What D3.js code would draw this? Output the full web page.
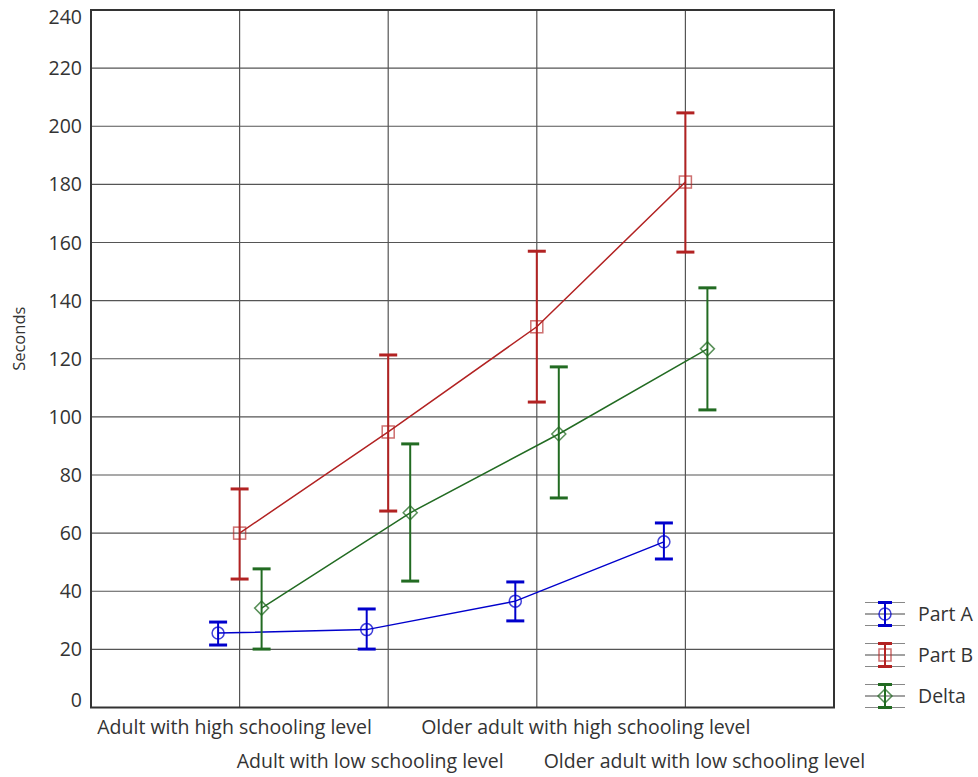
<!DOCTYPE html>
<html>
<head>
<meta charset="utf-8">
<script src="https://cdn.jsdelivr.net/npm/d3@7"></script>
<style>
  body { margin: 0; background: #fff; }
  text { font-family: "Open Sans", Lato, sans-serif; fill: #333; }
</style>
</head>
<body>
<script>
var categories = ['Adult with high schooling level', 'Adult with low schooling level',
  'Older adult with high schooling level', 'Older adult with low schooling level']
var seriesNames = ['Part A', 'Part B', 'Delta']
var partA = [25.6, 26.8, 36.6, 57.0]
var partALow = [21.5, 20.1, 29.8, 51.1]
var partAHigh = [29.4, 33.9, 43.2, 63.5]
var partB = [60.0, 94.8, 131.0, 180.8]
var partBLow = [44.2, 67.6, 105.1, 156.7]
var partBHigh = [75.2, 121.3, 157.0, 204.6]
var delta = [34.2, 67.0, 94.1, 123.4]
var deltaLow = [20.1, 43.5, 72.1, 102.4]
var deltaHigh = [47.7, 90.7, 117.2, 144.4]
var yTicks = [0, 20, 40, 60, 80, 100, 120, 140, 160, 180, 200, 220, 240]

var w = 978
var h = 777
var margin = { top: 10, right: 144, bottom: 69, left: 91 }

var svg = d3.select('body').append('svg')
  .attr('width', w)
  .attr('height', h)

var x = d3.scaleLinear()
  .domain([0, 5])
  .range([margin.left, w - margin.right])

var y = d3.scaleLinear()
  .domain([0, 240])
  .range([h - margin.bottom - 0.5, margin.top])

var series = [
  { name: seriesNames[0], mean: partA, low: partALow, high: partAHigh, color: '#0000cc', dx: -21.5, shape: 'circle' },
  { name: seriesNames[1], mean: partB, low: partBLow, high: partBHigh, color: '#b22222', dx: 0, shape: 'square' },
  { name: seriesNames[2], mean: delta, low: deltaLow, high: deltaHigh, color: '#226b22', dx: 22, shape: 'diamond' }
]

// GRID
svg.append('g').selectAll('line')
  .data(yTicks.slice(1, -1))
  .enter().append('line')
  .attr('x1', x(0)).attr('x2', x(5))
  .attr('y1', function (d) { return y(d) })
  .attr('y2', function (d) { return y(d) })
  .attr('stroke', '#555').attr('stroke-width', 1.2)

svg.append('g').selectAll('line')
  .data(categories)
  .enter().append('line')
  .attr('x1', function (d, i) { return x(i + 1) })
  .attr('x2', function (d, i) { return x(i + 1) })
  .attr('y1', y(240)).attr('y2', y(0))
  .attr('stroke', '#555').attr('stroke-width', 1.2)

// FRAME
svg.append('rect')
  .attr('x', x(0)).attr('y', y(240))
  .attr('width', x(5) - x(0)).attr('height', y(0) - y(240))
  .attr('fill', 'none').attr('stroke', '#333').attr('stroke-width', 2)

// Y TICK LABELS (end labels pulled inside the plot height)
svg.append('g').selectAll('text')
  .data(yTicks)
  .enter().append('text')
  .attr('x', x(0) - 9)
  .attr('y', function (d) { return Math.min(700, Math.max(17, y(d))) })
  .attr('dy', '0.36em')
  .attr('text-anchor', 'end')
  .style('font-size', '19.5px')
  .text(function (d) { return d })

svg.append('text')
  .attr('transform', 'translate(25,' + (y(120) - 20) + ') rotate(-90)')
  .attr('text-anchor', 'middle')
  .style('font-size', '16.5px')
  .text('Seconds')

// CATEGORY LABELS (staggered)
var labelShift = [-5, -18, 49, 19]
svg.append('g').selectAll('text')
  .data(categories)
  .enter().append('text')
  .attr('x', function (d, i) { return x(i + 1) + labelShift[i] })
  .attr('y', function (d, i) { return i % 2 === 0 ? 734 : 768 })
  .attr('text-anchor', 'middle')
  .style('font-size', '19.5px')
  .text(function (d) { return d })

function marker (g, shape, color, cx, cy) {
  if (shape === 'circle') {
    g.append('circle').attr('cx', cx).attr('cy', cy).attr('r', 6)
      .attr('fill', 'none').attr('stroke', color).attr('stroke-opacity', 0.75).attr('stroke-width', 1.5)
  } else if (shape === 'square') {
    g.append('rect').attr('x', cx - 6).attr('y', cy - 6).attr('width', 12).attr('height', 12)
      .attr('fill', 'none').attr('stroke', color).attr('stroke-opacity', 0.65).attr('stroke-width', 1.5)
  } else {
    g.append('path').attr('d', 'M' + cx + ',' + (cy - 7) + 'L' + (cx + 7) + ',' + cy + 'L' + cx + ',' + (cy + 7) + 'L' + (cx - 7) + ',' + cy + 'Z')
      .attr('fill', 'none').attr('stroke', color).attr('stroke-opacity', 0.75).attr('stroke-width', 1.5)
  }
}

var line = d3.line()

// SERIES
series.forEach(function (s) {
  var g = svg.append('g')
  var px = function (i) { return x(i + 1) + s.dx }

  g.append('path')
    .attr('d', line(s.mean.map(function (d, i) { return [px(i), y(d)] })))
    .attr('fill', 'none').attr('stroke', s.color).attr('stroke-width', 1.5)

  s.mean.forEach(function (d, i) {
    g.append('line')
      .attr('x1', px(i)).attr('x2', px(i))
      .attr('y1', y(s.low[i])).attr('y2', y(s.high[i]))
      .attr('stroke', s.color).attr('stroke-width', 2)
    ;[s.low[i], s.high[i]].forEach(function (v) {
      g.append('line')
        .attr('x1', px(i) - 9).attr('x2', px(i) + 9)
        .attr('y1', y(v)).attr('y2', y(v))
        .attr('stroke', s.color).attr('stroke-width', 3)
    })
    marker(g, s.shape, s.color, px(i), y(d))
  })
})

// LEGEND
var legend = svg.append('g')
series.forEach(function (s, k) {
  var cy = 614 + k * 41
  var lx = 885
  ;[-11.5, 0, 11.5].forEach(function (o) {
    legend.append('line')
      .attr('x1', 865).attr('x2', 905)
      .attr('y1', cy + o).attr('y2', cy + o)
      .attr('stroke', o === 0 ? '#444' : '#888').attr('stroke-width', 1.2)
  })
  legend.append('line')
    .attr('x1', lx).attr('x2', lx).attr('y1', cy - 11.5).attr('y2', cy + 11.5)
    .attr('stroke', s.color).attr('stroke-width', 2)
  ;[-11.5, 11.5].forEach(function (o) {
    legend.append('line')
      .attr('x1', lx - 7).attr('x2', lx + 7)
      .attr('y1', cy + o).attr('y2', cy + o)
      .attr('stroke', s.color).attr('stroke-width', 3)
  })
  marker(legend, s.shape, s.color, lx, cy)
  legend.append('text')
    .attr('x', 918).attr('y', cy).attr('dy', '0.36em')
    .style('font-size', '19.5px')
    .text(s.name)
})
</script>
</body>
</html>
